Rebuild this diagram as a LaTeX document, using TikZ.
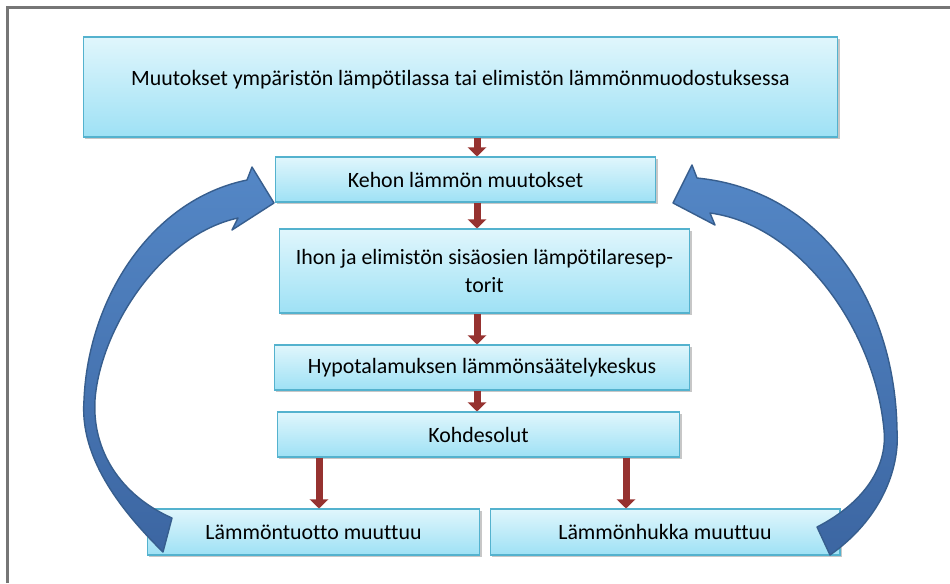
\documentclass[tikz,border=0pt]{standalone}
\usepackage{fontspec}
\setmainfont{Carlito}[Ligatures=NoCommon]
\usetikzlibrary{arrows.meta,shadows}

\definecolor{boxtop}{RGB}{224,246,252}
\definecolor{boxbottom}{RGB}{158,225,245}
\definecolor{boxedge}{RGB}{84,178,206}
\definecolor{darkred}{RGB}{150,50,48}
\definecolor{looptop}{RGB}{84,135,198}
\definecolor{loopbottom}{RGB}{60,102,162}
\definecolor{loopedge}{RGB}{55,94,142}
\definecolor{framegray}{RGB}{118,118,118}

\begin{document}
\begin{tikzpicture}[
        x=0.02cm, y=-0.02cm,
        every node/.style={font=\fontsize{12.45}{15.5}\selectfont, inner sep=0pt, align=center},
        box/.style={rectangle, draw=boxedge, line width=0.6pt, top color=boxtop, bottom color=boxbottom,
            drop shadow={shadow xshift=0.9pt, shadow yshift=-1.3pt, fill=black, opacity=0.22}},
        arrow/.style={draw=darkred, line width=0.14cm, -{Triangle[width=0.36cm 0, length=0.18cm 0]}},
        looparrow/.style={top color=looptop, bottom color=loopbottom, draw=loopedge, line width=0.8pt, line join=round}
    ]
    \useasboundingbox (0,0) rectangle (950,583);
    \draw[framegray, line width=1.3pt] (7.5,583) -- (7.5,7.5) -- (950,7.5);

    % Nodes
    \node[box, minimum width=15.1cm, minimum height=2cm, text depth=0.35cm] (top) at (460.5,87)
        {Muutokset ympäristön lämpötilassa tai elimistön lämmönmuodostuksessa};
    \node[box, minimum width=7.62cm, minimum height=0.9cm] (kehon) at (465.5,179.5) {Kehon lämmön muutokset};
    \node[box, minimum width=8.22cm, minimum height=1.68cm] (ihon) at (484.5,271)
        {Ihon ja elimistön sisäosien lämpötilaresep-\\torit};
    \node[box, minimum width=8.32cm, minimum height=0.9cm] (hypo) at (482,367.5) {Hypotalamuksen lämmönsäätelykeskus};
    \node[box, minimum width=8.06cm, minimum height=0.9cm] (kohde) at (478.5,434.5) {Kohdesolut};
    \node[box, minimum width=6.66cm, minimum height=0.92cm] (tuotto) at (313.5,532) {Lämmöntuotto muuttuu};
    \node[box, minimum width=7cm, minimum height=0.92cm] (hukka) at (665,532) {Lämmönhukka muuttuu};

    \coordinate (axis) at (477,0);
    \coordinate (leftaxis) at (319,0);
    \coordinate (rightaxis) at (626,0);

    % Arrows
    \draw[arrow] (top.south -| axis) -- (kehon.north -| axis);
    \draw[arrow] (kehon.south -| axis) -- (ihon.north -| axis);
    \draw[arrow] (ihon.south -| axis) -- (hypo.north -| axis);
    \draw[arrow] (hypo.south -| axis) -- (kohde.north -| axis);
    \draw[arrow] (kohde.south -| leftaxis) -- (tuotto.north -| leftaxis);
    \draw[arrow] (kohde.south -| rightaxis) -- (hukka.north -| rightaxis);

    % Feedback loops
    \shadedraw[looparrow] (163,552) .. controls (110,500) and (80,450) .. (84,400)
        .. controls (88,300) and (150,200) .. (247,180) -- (252,167) -- (274,203) -- (232,230) -- (238,218)
        .. controls (160,235) and (100,330) .. (95,400)
        .. controls (92,450) and (120,495) .. (172,518) -- cycle;
    \shadedraw[looparrow] (830,555) .. controls (880,520) and (900,470) .. (897,430)
        .. controls (895,300) and (820,190) .. (697,178) -- (692,165) -- (673,203) -- (715,225) -- (710,213)
        .. controls (800,225) and (875,330) .. (884,430)
        .. controls (888,470) and (860,505) .. (817,527) -- cycle;
\end{tikzpicture}
\end{document}
